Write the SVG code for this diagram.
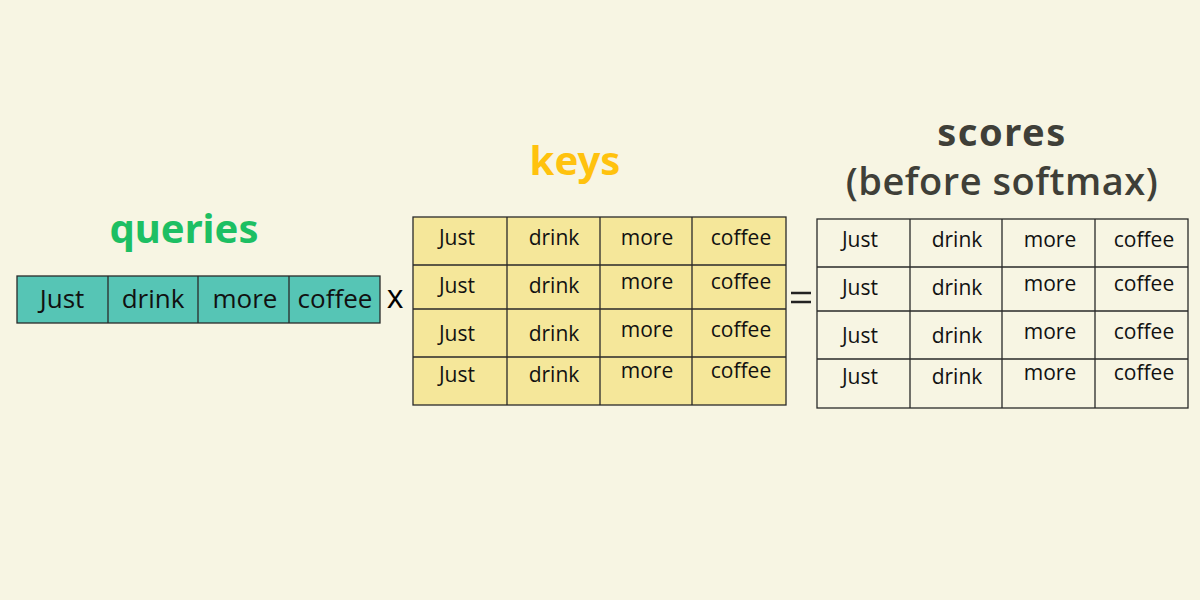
<svg xmlns="http://www.w3.org/2000/svg" width="1200" height="600" viewBox="0 0 1200 600">
<style>
.cell{font-family:"Open Sans","Noto Sans",sans-serif;font-size:21px;fill:#111;text-anchor:middle}
.qcell{font-family:"Open Sans","Noto Sans",sans-serif;font-size:26px;fill:#111;text-anchor:middle}
.ln{stroke:#2a2a2a;stroke-width:1.3;fill:none}
.box{stroke:#2a2a2a;stroke-width:1.3}
.title{font-family:"Noto Sans","Open Sans",sans-serif;font-weight:bold;text-anchor:middle}
</style>
<rect width="1200" height="600" fill="#F7F5E3"/>
<g id="queries">
<text class="title" x="184" y="243" font-size="40" fill="#1DBF63">queries</text>
<rect x="17" y="276" width="363" height="47" fill="#56C5B5" class="box"/>
<path class="ln" d="M108 276V323M198 276V323M289 276V323"/>
<text class="qcell" x="62" y="308">Just</text>
<text class="qcell" x="153" y="308">drink</text>
<text class="qcell" x="245" y="308">more</text>
<text class="qcell" x="335" y="308">coffee</text>
</g>
<g id="times"><text x="395" y="308" font-family="Open Sans,sans-serif" font-size="32" text-anchor="middle" fill="#000">x</text></g>
<g id="keys">
<text class="title" x="575" y="175" font-size="40" fill="#FFC20E">keys</text>
<rect x="413" y="217" width="373" height="188" fill="#F5E79A" class="box"/>
<path class="ln" d="M413 265H786M413 309H786M413 357H786M507 217V405M600 217V405M692 217V405"/>
<text class="cell" x="457" y="245">Just</text><text class="cell" x="554" y="245">drink</text><text class="cell" x="647" y="245">more</text><text class="cell" x="741" y="245">coffee</text>
<text class="cell" x="457" y="293">Just</text><text class="cell" x="554" y="293">drink</text><text class="cell" x="647" y="289">more</text><text class="cell" x="741" y="289">coffee</text>
<text class="cell" x="457" y="341">Just</text><text class="cell" x="554" y="341">drink</text><text class="cell" x="647" y="337">more</text><text class="cell" x="741" y="337">coffee</text>
<text class="cell" x="457" y="382">Just</text><text class="cell" x="554" y="382">drink</text><text class="cell" x="647" y="378">more</text><text class="cell" x="741" y="378">coffee</text>
</g>
<g id="equals"><path d="M791 293H811M791 302H811" stroke="#222" stroke-width="2.5"/></g>
<g id="scores">
<text class="title" x="1002" y="146" font-size="38" fill="#3F3F38" letter-spacing="1.5">scores</text>
<text x="1002" y="195" font-family="Open Sans,Noto Sans,sans-serif" font-weight="600" font-size="38" letter-spacing="0.5" text-anchor="middle" fill="#3F3F38">(before softmax)</text>
<rect x="817" y="219" width="371" height="189" fill="#F7F5E3" class="box"/>
<path class="ln" d="M817 267H1188M817 311H1188M817 359H1188M910 219V408M1002 219V408M1095 219V408"/>
<text class="cell" x="860" y="247">Just</text><text class="cell" x="957" y="247">drink</text><text class="cell" x="1050" y="247">more</text><text class="cell" x="1144" y="247">coffee</text>
<text class="cell" x="860" y="295">Just</text><text class="cell" x="957" y="295">drink</text><text class="cell" x="1050" y="291">more</text><text class="cell" x="1144" y="291">coffee</text>
<text class="cell" x="860" y="343">Just</text><text class="cell" x="957" y="343">drink</text><text class="cell" x="1050" y="339">more</text><text class="cell" x="1144" y="339">coffee</text>
<text class="cell" x="860" y="384">Just</text><text class="cell" x="957" y="384">drink</text><text class="cell" x="1050" y="380">more</text><text class="cell" x="1144" y="380">coffee</text>
</g>
</svg>
